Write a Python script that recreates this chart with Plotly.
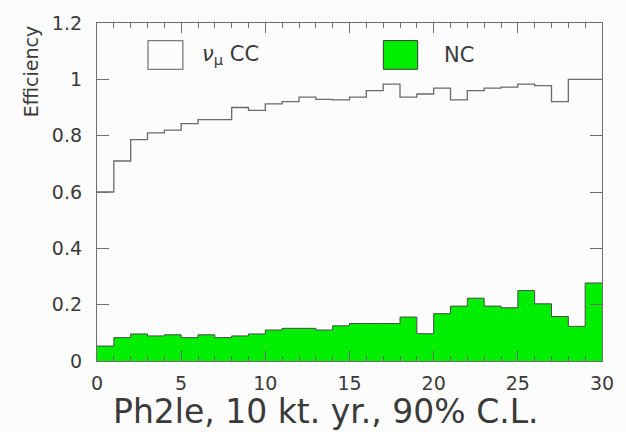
import numpy as np
import plotly.graph_objects as go

# Efficiency per bin, 30 unit-width bins from 0 to 30
bin_edges = list(range(0, 31))
numu_cc_eff = [0.60, 0.71, 0.786, 0.81, 0.82, 0.843, 0.857, 0.857, 0.90, 0.89,
               0.913, 0.921, 0.937, 0.929, 0.927, 0.937, 0.96, 0.983, 0.937, 0.948,
               0.969, 0.927, 0.96, 0.969, 0.972, 0.983, 0.978, 0.921, 1.0, 1.0]
nc_eff = [0.053, 0.083, 0.096, 0.089, 0.093, 0.083, 0.093, 0.083, 0.089, 0.096,
          0.110, 0.116, 0.116, 0.110, 0.125, 0.133, 0.133, 0.133, 0.156, 0.097,
          0.168, 0.195, 0.223, 0.195, 0.189, 0.25, 0.203, 0.158, 0.123, 0.277]
y_ticks = [0, 0.2, 0.4, 0.6, 0.8, 1.0, 1.2]
y_tick_text = ["0", "0.2", "0.4", "0.6", "0.8", "1", "1.2"]

GREEN = "#00ee00"
AXIS = "#6e6e6e"
TEXT = "#3a3a3a"
FONT = "DejaVu Sans"

fig = go.Figure()

# NC: filled step histogram
fig.add_trace(go.Scatter(
    x=bin_edges, y=nc_eff + [nc_eff[-1]],
    mode="lines", line=dict(shape="hv", color="#4a4a4a", width=1),
    fill="tozeroy", fillcolor=GREEN, showlegend=False, hoverinfo="skip",
))

# numu CC: open step histogram
fig.add_trace(go.Scatter(
    x=bin_edges, y=numu_cc_eff + [numu_cc_eff[-1]],
    mode="lines", line=dict(shape="hv", color="#6a6a6a", width=1.3),
    showlegend=False, hoverinfo="skip",
))

fig.update_xaxes(
    range=[0, 30], showline=True, linecolor=AXIS, linewidth=1.3, mirror="ticks",
    ticks="inside", tickcolor=AXIS, ticklen=10, tickwidth=1, dtick=5, tick0=0,
    minor=dict(ticks="inside", dtick=1, ticklen=5, tickcolor=AXIS, tickwidth=1),
    showgrid=False, zeroline=False,
    tickfont=dict(family=FONT, size=19, color=TEXT), ticklabelstandoff=5,
)
fig.update_yaxes(
    range=[0, 1.2], showline=True, linecolor=AXIS, linewidth=1.3, mirror="ticks",
    ticks="inside", tickcolor=AXIS, ticklen=12, tickwidth=1,
    tickvals=y_ticks, ticktext=y_tick_text,
    showgrid=False, zeroline=False,
    tickfont=dict(family=FONT, size=19, color=TEXT), ticklabelstandoff=10,
)

# Legend boxes drawn inside the frame
fig.add_shape(type="rect", xref="paper", yref="paper",
              x0=0.101, x1=0.170, y0=0.863, y1=0.948,
              line=dict(color="#7a7a7a", width=1.3), fillcolor="rgba(0,0,0,0)")
fig.add_shape(type="rect", xref="paper", yref="paper",
              x0=0.567, x1=0.635, y0=0.863, y1=0.948,
              line=dict(color="#3a3a3a", width=1), fillcolor=GREEN)
fig.add_annotation(text="<i>ν</i><sub>μ</sub> CC", xref="paper", yref="paper",
                   x=0.204, y=0.905, xanchor="left", yanchor="middle", showarrow=False,
                   font=dict(family=FONT, size=21, color=TEXT))
fig.add_annotation(text="NC", xref="paper", yref="paper",
                   x=0.684, y=0.905, xanchor="left", yanchor="middle", showarrow=False,
                   font=dict(family=FONT, size=21, color=TEXT))

# Axis titles
fig.add_annotation(text="Efficiency", xref="paper", yref="paper",
                   x=-0.13, y=0.858, textangle=-90, showarrow=False,
                   xanchor="center", yanchor="middle",
                   font=dict(family=FONT, size=19, color=TEXT))
fig.add_annotation(text="Ph2le, 10 kt. yr., 90% C.L.", xref="paper", yref="paper",
                   x=0.454, y=-0.15, xanchor="center", yanchor="middle", showarrow=False,
                   font=dict(family=FONT, size=33, color=TEXT))

fig.update_layout(
    width=626, height=432,
    margin=dict(l=97, r=16, t=21, b=71),
    paper_bgcolor="#fcfcfc", plot_bgcolor="#fcfcfc",
    showlegend=False,
)

fig.write_html("out.html")
